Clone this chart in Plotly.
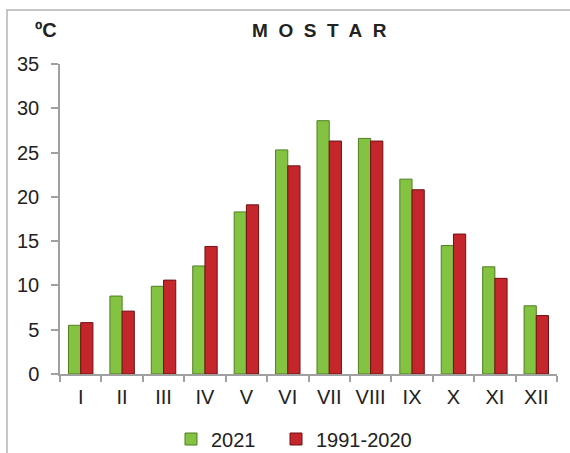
import plotly.graph_objects as go

months = ["I", "II", "III", "IV", "V", "VI", "VII", "VIII", "IX", "X", "XI", "XII"]
t2021 = [5.5, 8.8, 9.9, 12.2, 18.3, 25.3, 28.6, 26.6, 22.0, 14.5, 12.1, 7.7]
t1991_2020 = [5.8, 7.1, 10.6, 14.4, 19.1, 23.5, 26.3, 26.3, 20.8, 15.8, 10.8, 6.6]
y_ticks = [0, 5, 10, 15, 20, 25, 30, 35]

W, H = 570, 453
L, R, T, B = 60, 13, 64, 79
pw, ph = W - L - R, H - T - B

def px(x):
    return (x - L) / pw

def py(y):
    return (H - B - y) / ph

fig = go.Figure()
fig.add_trace(go.Bar(x=months, y=t2021, name="2021", legend="legend",
                     marker=dict(color="#84c241", line=dict(color="#4f7f22", width=1))))
fig.add_trace(go.Bar(x=months, y=t1991_2020, name="1991-2020", legend="legend2",
                     marker=dict(color="#c4262b", line=dict(color="#6e1215", width=1))))

sp = "\u00a0 "
leg_common = dict(orientation="h", xanchor="left", yanchor="middle",
                  font=dict(size=20, color="#222"), itemwidth=30,
                  bgcolor="rgba(0,0,0,0)")
fig.update_layout(
    width=W, height=H,
    margin=dict(l=L, r=R, t=T, b=B, autoexpand=False),
    paper_bgcolor="white", plot_bgcolor="white",
    barmode="group", bargap=0.41, bargroupgap=0,
    font=dict(family="Liberation Sans, Arial, sans-serif", size=20, color="#222"),
    showlegend=True,
    legend=dict(x=px(171), y=py(439), **leg_common),
    legend2=dict(x=px(276), y=py(439), **leg_common),
    annotations=[
        dict(text="<b>" + sp.join("MOSTAR") + "</b>", x=px(319), y=py(30),
             xref="paper", yref="paper", xanchor="center", yanchor="middle",
             showarrow=False, font=dict(size=19, color="#222")),
        dict(text="<b>ºC</b>", x=px(45.5), y=py(30), xref="paper", yref="paper",
             xanchor="center", yanchor="middle", showarrow=False,
             font=dict(size=20, color="#222")),
    ],
)

fig.update_xaxes(showline=True, linecolor="#a0a0a0", linewidth=1.5, ticks="outside",
                 tickson="boundaries", ticklen=6, tickcolor="#a0a0a0", tickwidth=1.5,
                 showgrid=False, tickfont=dict(size=20), ticklabelstandoff=4,
                 automargin=False)
fig.update_yaxes(range=[0, 35], tickvals=y_ticks, showline=True, linecolor="#a0a0a0",
                 linewidth=1.5, ticks="outside", ticklen=7, tickcolor="#a0a0a0", tickwidth=1.5,
                 showgrid=False, zeroline=False, tickfont=dict(size=20),
                 ticklabelstandoff=8, automargin=False)

# outer chart frame
fig.add_shape(type="rect", xref="paper", yref="paper",
              x0=px(7), x1=px(620), y0=py(500), y1=py(10),
              line=dict(color="#b4b4b4", width=1.5), layer="below")

fig.write_html("out.html", config={"displayModeBar": False},
               post_script="document.body.style.margin='0px';")
